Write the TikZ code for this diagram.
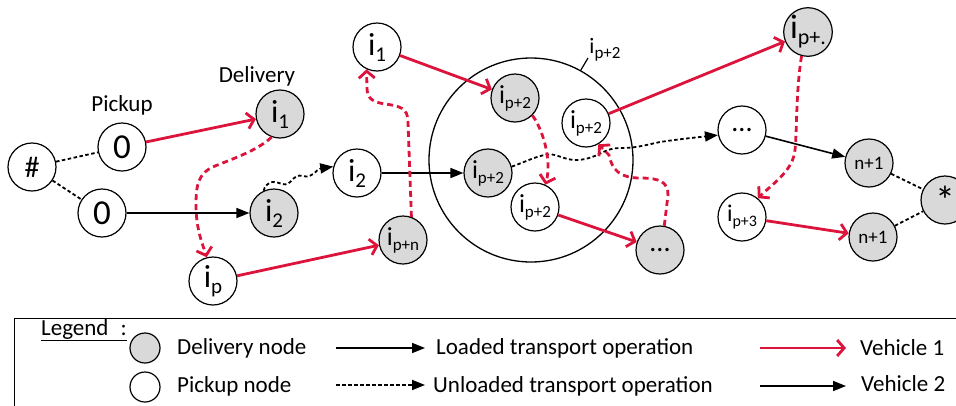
\documentclass[tikz,border=0pt]{standalone}
\usepackage{fontspec}
\setmainfont{Carlito}
\usetikzlibrary{arrows.meta}
\definecolor{vred}{RGB}{220,20,60}
\definecolor{dgray}{RGB}{217,217,217}
\newcommand\isub[4]{{\fontsize{#1}{#1}\selectfont i}{\fontsize{#2}{#2}\selectfont\raisebox{-#3pt}{#4}}}
\newcommand\fs[1]{\fontsize{#1}{#1}\selectfont}
\begin{document}
\begin{tikzpicture}[x=1pt,y=-1pt,
  pnode/.style={circle,draw,line width=1.2pt,minimum size=48pt,inner sep=0pt,fill=white},
  dnode/.style={pnode,fill=dgray},
  vone/.style={draw=vred,line width=2.8pt,-{Straight Barb[length=7pt,width=16pt]}},
  vonedash/.style={vone,dash pattern=on 6pt off 4pt},
  load/.style={draw,line width=1.6pt,-{Triangle[length=13pt,width=10pt]}},
  unload/.style={draw,line width=1.8pt,dash pattern=on 3.5pt off 2.5pt},
  unloadarr/.style={unload,-{Triangle[length=13pt,width=10pt]}},
  lbl/.style={font=\fs{23}}
]
\useasboundingbox (0,0) rectangle (956,405);
\clip (0,0) rectangle (956,405);

% big circle
\node[circle,draw,line width=1.3pt,minimum size=204pt,inner sep=0pt] (big) at (531,160) {};
\node[inner sep=0pt] (biglbl) at (605,50) {\isub{22}{17}{5}{p+2}};
\draw[line width=1.2pt] (big.61) -- (588,58);

% nodes
\node[pnode,font=\fs{30}] (hash) at (32,167) {\#};
\node[pnode,font=\fs{35}] (p0a) at (122,147) {0};
\node[pnode,font=\fs{35}] (p0b) at (102,213) {0};
\node[lbl] (pick) at (122,105) {Pickup};
\node[lbl] (deliv) at (257,76) {Delivery};
\node[dnode] (i1g) at (280,114) {\isub{32}{21}{6}{1}};
\node[dnode] (i2g) at (274,213) {\isub{32}{21}{6}{2}};
\node[pnode] (ip) at (213,281) {\isub{32}{21}{6}{p}};
\node[pnode] (i2w) at (357,173) {\isub{32}{21}{6}{2}};
\node[pnode] (i1w) at (377,47) {\isub{32}{21}{6}{1}};
\node[dnode] (ipn) at (403,240) {\isub{26}{17}{5}{p+n}};
\node[dnode] (g1) at (515,98) {\isub{26}{17}{5}{p+2}};
\node[pnode] (w1) at (586,123) {\isub{26}{17}{5}{p+2}};
\node[dnode] (g2) at (488,173) {\isub{26}{17}{5}{p+2}};
\node[pnode] (w2) at (535,207) {\isub{26}{17}{5}{p+2}};
\node[dnode,font=\fs{28}] (dg) at (660,250) {...};
\node[dnode] (ipd) at (808,32) {\isub{34}{22}{6}{p+.}};
\node[pnode,font=\fs{28}] (dw) at (742,130) {...};
\node[dnode,font=\fs{19}] (n1a) at (869,163) {n+1};
\node[dnode,font=\fs{40}] (star) at (945,200) {\raisebox{-9pt}{*}};
\node[pnode] (ip3) at (742,217) {\isub{24}{16}{5}{p+3}};
\node[dnode,font=\fs{19}] (n1b) at (873,237) {n+1};

% unloaded (dotted, no arrow)
\draw[unload] (hash) -- (p0a);
\draw[unload] (hash) -- (p0b);
\draw[unload] (n1a) -- (star);
\draw[unload] (n1b) -- (star);

% loaded black
\draw[load] (p0b) -- (i2g);
\draw[load] (i2w) -- (g2);
\draw[load] (dw) -- (n1a);

% unloaded black wavy
\draw[unloadarr] (i2g.115) .. controls (266,182) and (272,180) .. (282,184)
  .. controls (292,187) and (292,173) .. (303,176)
  .. controls (313,179) and (316,169) .. (i2w.165);
\draw[unloadarr] (g2.15) .. controls (530,160) and (545,152) .. (555,155)
  .. controls (565,158) and (572,162) .. (585,159)
  .. controls (600,156) and (605,148) .. (620,148)
  .. controls (635,148) and (642,146) .. (660,142)
  .. controls (680,139) and (700,137) .. (dw.192);

% vehicle 1 red solid
\draw[vone] (p0a) -- (i1g);
\draw[vone] (ip) -- (ipn);
\draw[vone] (i1w) -- (g1);
\draw[vone] (w2) -- (dg);
\draw[vone] (w1) -- (ipd);
\draw[vone] (ip3) -- (n1b);

% vehicle 1 red dashed
\draw[vonedash] (i1g.250) .. controls (258,150) and (235,158) .. (215,166)
  .. controls (198,173) and (196,185) .. (196,205)
  .. controls (196,230) and (203,245) .. (ip.105);
\draw[vonedash] (ipn.70) -- (408,122) .. controls (408,108) and (400,106) .. (385,104)
  .. controls (372,102) and (367,98) .. (367,88) -- (i1w.245);
\draw[vonedash] (g1.-45) .. controls (543,130) and (552,160) .. (w2.65);
\draw[vonedash] (dg.80) -- (668,195) .. controls (668,182) and (660,178) .. (640,178)
  .. controls (620,178) and (612,170) .. (609,155) -- (w1.-60);
\draw[vonedash] (ipd.255) .. controls (796,90) and (797,130) .. (795,150)
  .. controls (793,170) and (775,182) .. (ip3.50);

% legend
\node[draw,line width=1pt,minimum width=960pt,minimum height=110pt,anchor=north west,inner sep=0pt] (legbox) at (14,318) {};
\node[font=\fs{23}] (legt) at (84,330) {\underline{Legend\hspace{0.3em} :}};
\node[circle,draw,line width=1.2pt,minimum size=30pt,inner sep=0pt,fill=dgray] (legd) at (145,348) {};
\node[circle,draw,line width=1.2pt,minimum size=30pt,inner sep=0pt,fill=white] (legp) at (145,387) {};
\node[lbl,anchor=west,inner sep=0pt] (legdt) at (177,348) {Delivery node};
\node[lbl,anchor=west,inner sep=0pt] (legpt) at (177,386) {Pickup node};
\coordinate (la1) at (336,348); \coordinate (la2) at (425,348);
\coordinate (lb1) at (336,385); \coordinate (lb2) at (425,385);
\draw[load] (la1) -- (la2);
\draw[unloadarr] (lb1) -- (lb2);
\node[lbl,anchor=west,inner sep=0pt] (legl) at (436,348) {Loaded transport operation};
\node[lbl,anchor=west,inner sep=0pt] (legu) at (433,386) {Unloaded transport operation};
\coordinate (lc1) at (760,348); \coordinate (lc2) at (846,348);
\coordinate (ld1) at (760,386); \coordinate (ld2) at (846,386);
\draw[vone] (lc1) -- (lc2);
\draw[load] (ld1) -- (ld2);
\node[lbl,anchor=west,inner sep=0pt] (legv1) at (860,348) {Vehicle 1};
\node[lbl,anchor=west,inner sep=0pt] (legv2) at (861,384) {Vehicle 2};
\end{tikzpicture}
\end{document}
